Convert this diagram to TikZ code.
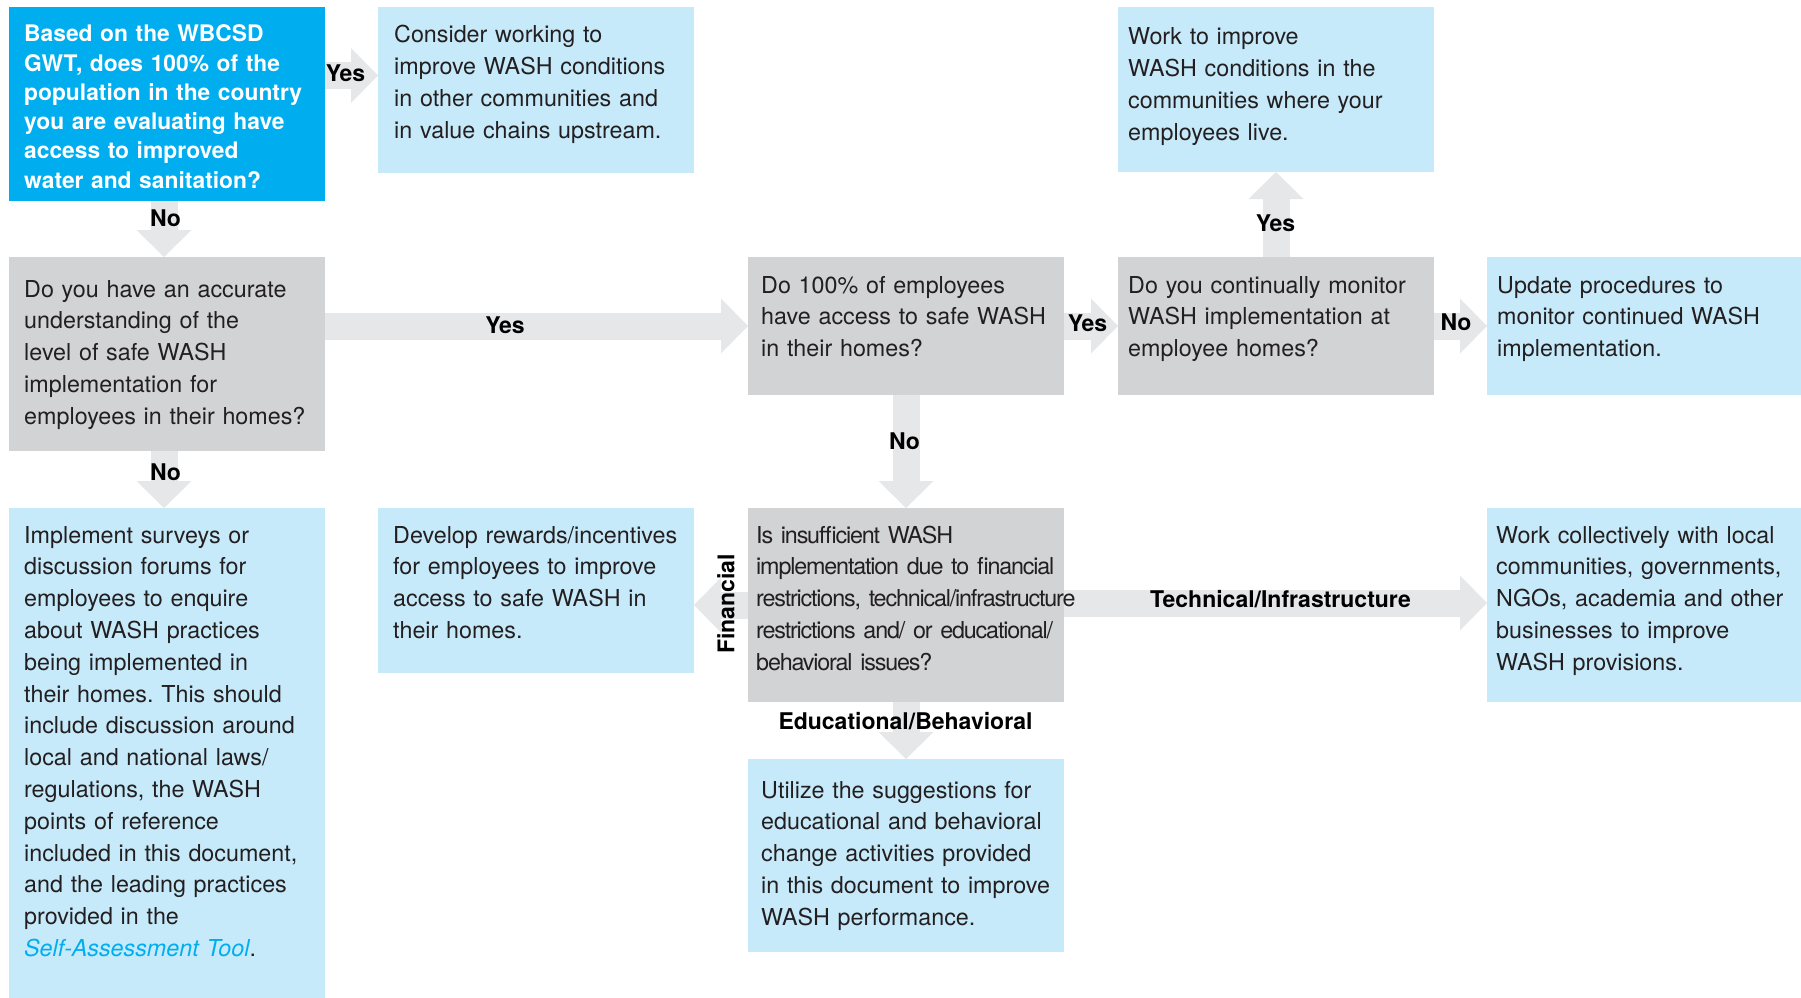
\documentclass[tikz,border=0pt]{standalone}
\usepackage{fontspec}
\setmainfont{TeX Gyre Heros}
\usetikzlibrary{arrows.meta}
\definecolor{cyanbox}{HTML}{00AEEF}
\definecolor{lightbox}{HTML}{C6EAFA}
\definecolor{graybox}{HTML}{D1D3D4}
\definecolor{arrowgray}{HTML}{E6E7E8}
\definecolor{ink}{HTML}{231F20}
\newcommand{\bodysize}{\fontsize{23.3}{31.8}\selectfont}
\newcommand{\qsize}{\fontsize{22.8}{29.2}\selectfont\bfseries}
\newcommand{\labsize}{\fontsize{23}{26}\selectfont\bfseries}
\frenchspacing
\begin{document}
\begin{tikzpicture}[x=1pt,y=-1pt,
  box/.style={rectangle, inner sep=0pt, outer sep=0pt, anchor=north west},
  lbox/.style={box, fill=lightbox},
  gbox/.style={box, fill=graybox},
  cbox/.style={box, fill=cyanbox},
  txt/.style={inner sep=0pt, anchor=base west, align=left, text=ink, font=\bodysize},
  fat/.style={draw=arrowgray, line width=27pt, -{Triangle[width=55pt,length=27pt,line width=0pt]}},
  lab/.style={inner sep=0pt, text=black, font=\labsize},
]
\useasboundingbox (0,0) rectangle (1801,998);
% boxes
\node[cbox, minimum width=316pt, minimum height=194pt] (A) at (9,7) {};
\node[lbox, minimum width=316pt, minimum height=166pt] (B) at (378,7) {};
\node[lbox, minimum width=316pt, minimum height=165pt] (C) at (1118,7) {};
\node[gbox, minimum width=316pt, minimum height=194pt] (D) at (9,257) {};
\node[gbox, minimum width=316pt, minimum height=138pt] (E) at (748,257) {};
\node[gbox, minimum width=316pt, minimum height=138pt] (F) at (1118,257) {};
\node[lbox, minimum width=314pt, minimum height=138pt] (G) at (1487,257) {};
\node[lbox, minimum width=316pt, minimum height=490pt] (H) at (9,508) {};
\node[lbox, minimum width=316pt, minimum height=165pt] (I) at (378,508) {};
\node[gbox, minimum width=316pt, minimum height=194pt] (J) at (748,508) {};
\node[lbox, minimum width=314pt, minimum height=194pt] (K) at (1487,508) {};
\node[lbox, minimum width=316pt, minimum height=193pt] (L) at (748,759) {};
% connectors
\draw[fat] ([yshift=-68.5pt]A.north east) -- ([yshift=-68.5pt]B.north west);
\draw[fat] ([xshift=-3pt]A.south) -- ([xshift=-3pt]D.north);
\draw[fat] (D.east |- E.west) -- (E.west);
\draw[fat] (E.east) -- (F.west);
\draw[fat] (F.east) -- (G.west);
\draw[fat] (F.north) -- (C.south);
\draw[fat] (E.south) -- (J.north);
\draw[fat] ([xshift=-3pt]D.south) -- ([xshift=-3pt]H.north);
\draw[fat] (J.west) -- (I.east |- J.west);
\draw[fat] ([yshift=2pt]J.east) -- ([yshift=2pt]K.west);
\draw[fat] (J.south) -- (L.north);
% texts
\node[txt, text=white, font=\qsize, text width=300pt] (At) at ([xshift=15pt,yshift=-35pt]A.north west)
 {Based on the WBCSD\\GWT, does 100\% of the\\population in the country\\you are evaluating have\\access to improved\\water and sanitation?};
\node[txt, text width=298pt] (Bt) at ([xshift=16pt,yshift=-36pt]B.north west)
 {Consider working to\\improve WASH conditions\\in other communities and\\in value chains upstream.};
\node[txt, text width=304pt] (Ct) at ([xshift=10pt,yshift=-38pt]C.north west)
 {Work to improve\\WASH conditions in the\\communities where your\\employees live.};
\node[txt, text width=300pt] (Dt) at ([xshift=15pt,yshift=-40pt]D.north west)
 {Do you have an accurate\\understanding of the\\level of safe WASH\\implementation for\\employees in their homes?};
\node[txt, text width=302pt] (Et) at ([xshift=13pt,yshift=-36pt]E.north west)
 {Do 100\% of employees\\have access to safe WASH\\in their homes?};
\node[txt, text width=305pt] (Ft) at ([xshift=10pt,yshift=-36pt]F.north west)
 {Do you continually monitor\\WASH implementation at\\employee homes?};
\node[txt, text width=303pt] (Gt) at ([xshift=10pt,yshift=-36pt]G.north west)
 {Update procedures to\\monitor continued WASH\\implementation.};
\node[txt, text width=300pt] (Ht) at ([xshift=15pt,yshift=-35pt]H.north west)
 {Implement surveys or\\discussion forums for\\employees to enquire\\about WASH practices\\being implemented in\\their homes. This should\\include discussion around\\local and national laws/\\regulations, the WASH\\points of reference\\included in this document,\\and the leading practices\\provided in the\\{\color{cyanbox}\itshape Self-Assessment Tool}.};
\node[txt, text width=300pt] (It) at ([xshift=15pt,yshift=-35pt]I.north west)
 {Develop rewards/incentives\\for employees to improve\\access to safe WASH in\\their homes.};
\node[txt, text width=330pt, font=\bodysize\addfontfeature{LetterSpace=-5}] (Jt) at ([xshift=8pt,yshift=-35pt]J.north west)
 {Is insufficient WASH\\implementation due to financial\\restrictions, technical/infrastructure\\restrictions and/ or educational/\\behavioral issues?};
\node[txt, text width=305pt] (Kt) at ([xshift=9pt,yshift=-35pt]K.north west)
 {Work collectively with local\\communities, governments,\\NGOs, academia and other\\businesses to improve\\WASH provisions.};
\node[txt, text width=302pt] (Lt) at ([xshift=13pt,yshift=-39pt]L.north west)
 {Utilize the suggestions for\\educational and behavioral\\change activities provided\\in this document to improve\\WASH performance.};
% labels
\node[lab] (l1) at (345.5,73.5) {Yes};
\node[lab] (l2) at (165.5,218) {No};
\node[lab] (l3) at (505,325) {Yes};
\node[lab] (l4) at (1087.5,323.5) {Yes};
\node[lab] (l5) at (1456,322) {No};
\node[lab] (l6) at (1275.5,223.5) {Yes};
\node[lab] (l7) at (904.5,441) {No};
\node[lab] (l8) at (165.5,472.5) {No};
\node[lab, rotate=90] (l9) at (726,604) {Financial};
\node[lab] (l10) at (905.5,721.5) {Educational/Behavioral};
\node[lab] (l11) at (1280.5,599) {Technical/Infrastructure};
\end{tikzpicture}
\end{document}
